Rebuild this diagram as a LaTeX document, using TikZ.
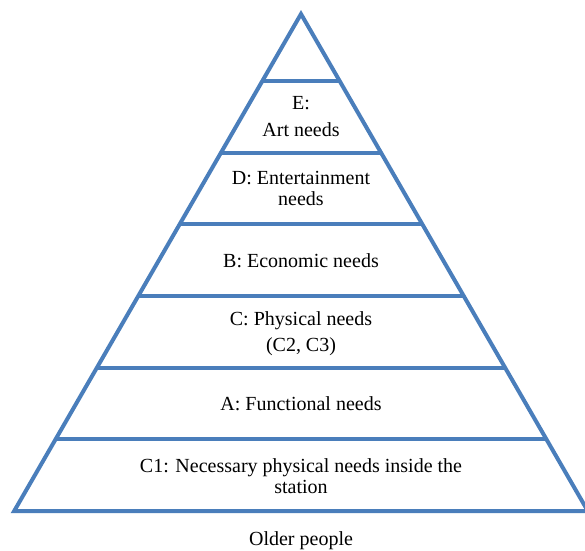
\documentclass[tikz,border=0pt]{standalone}
\usepackage{fontspec}
\setmainfont{Liberation Serif}
\usetikzlibrary{calc}
\definecolor{pyrblue}{RGB}{74,126,187}
\tikzset{
  edge/.style={draw=pyrblue, line width=4pt},
  level/.style={align=center, font=\fontsize{20}{21}\selectfont, inner sep=0pt, text=black}
}
\begin{document}
\begin{tikzpicture}[x=1pt, y=-1pt]
\useasboundingbox (0,0) rectangle (585,550);
\coordinate (apex) at (301,14);
\coordinate (bl) at (14.2,511);
\coordinate (br) at (587.8,511);
\draw[edge, line join=miter] (apex) -- (bl) -- (br) -- cycle;
\foreach \t [count=\i] in {0.1348,0.2790,0.4232,0.5674,0.7116,0.8558}{
  \coordinate (l\i) at ($(apex)!\t!(bl)$);
  \coordinate (r\i) at ($(apex)!\t!(br)$);
  \draw[edge] (l\i) -- (r\i);
}
\node[level] (e) at (301,116.8) {E:\\[6pt]Art needs};
\node[level] (d) at (301,188) {D: Entertainment\\needs};
\node[level] (b) at (301,261) {B: Economic needs};
\node[level] (c) at (301,333.5) {C: Physical needs\\[5pt](C2, C3)};
\node[level] (a) at (301,404) {A: Functional needs};
\node[level] (c1) at (301,476) {C1: Necessary physical needs inside the\\station};
\node[level] (op) at (301,540.5) {Older people};
\end{tikzpicture}
\end{document}
